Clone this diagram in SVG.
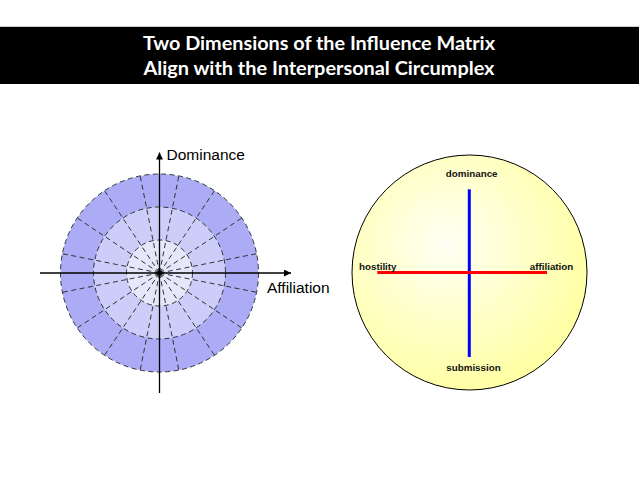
<svg xmlns="http://www.w3.org/2000/svg" width="639" height="479" viewBox="0 0 639 479">
<defs>
<style>
.title{font-family:Lato,"Open Sans","Liberation Sans",sans-serif;font-weight:bold;font-size:19px;fill:#fff;text-anchor:middle}
.lbl{font-family:"Liberation Sans",Arial,sans-serif;font-size:15.5px;fill:#000}
.small{font-family:"Liberation Sans",Arial,sans-serif;font-weight:bold;font-size:9.8px;fill:#111}
.dash{fill:none;stroke:#333;stroke-width:1;stroke-dasharray:5 3.5}
.axis{stroke:#000;stroke-width:1.3;fill:none}
</style>
<marker id="arr" viewBox="0 0 10 10" refX="10" refY="5" markerWidth="9" markerHeight="7" markerUnits="userSpaceOnUse" orient="auto">
<path d="M0,0 L10,5 L0,10 z" fill="#000"/>
</marker>
<radialGradient id="yel" cx="0.4" cy="0.38" r="0.62">
<stop offset="0" stop-color="#FFFFF4"/>
<stop offset="1" stop-color="#FFFFA6"/>
</radialGradient>
</defs>
<rect x="0" y="0" width="639" height="479" fill="#fff"/>
<g id="title">
<rect x="0" y="26" width="639" height="1" fill="#ccc"/>
<rect x="0" y="27" width="639" height="57" fill="#000"/>
<text class="title" x="319" y="50" textLength="352" lengthAdjust="spacingAndGlyphs">Two Dimensions of the Influence Matrix</text>
<text class="title" x="319" y="75" textLength="351" lengthAdjust="spacingAndGlyphs">Align with the Interpersonal Circumplex</text>
</g>
<g id="matrix">
<circle cx="159.5" cy="273" r="99" fill="#ABABF6"/>
<circle cx="159.5" cy="273" r="66" fill="#CDCDFA"/>
<circle cx="159.5" cy="273" r="33" fill="#E7E7FB"/>
<g id="radials" class="dash">
<path d="M159.5,273 L178.81,175.90 M159.5,273 L214.50,190.68 M159.5,273 L241.82,218.00 M159.5,273 L256.60,253.69 M159.5,273 L256.60,292.31 M159.5,273 L241.82,328.00 M159.5,273 L214.50,355.32 M159.5,273 L178.81,370.10 M159.5,273 L140.19,370.10 M159.5,273 L104.50,355.32 M159.5,273 L77.18,328.00 M159.5,273 L62.40,292.31 M159.5,273 L62.40,253.69 M159.5,273 L77.18,218.00 M159.5,273 L104.50,190.68 M159.5,273 L140.19,175.90"/>
</g>
<circle class="dash" cx="159.5" cy="273" r="99"/>
<circle class="dash" cx="159.5" cy="273" r="66"/>
<circle class="dash" cx="159.5" cy="273" r="33"/>
<circle cx="159.5" cy="273" r="4.5" fill="#555" opacity="0.6"/>
<circle cx="159.5" cy="273" r="2.5" fill="#000"/>
</g>
<g id="connectors">
<line class="axis" x1="159.5" y1="393" x2="159.5" y2="152.5" marker-end="url(#arr)"/>
<line class="axis" x1="40" y1="273" x2="291" y2="273" marker-end="url(#arr)"/>
</g>
<g id="axis-labels">
<text class="lbl" x="166.5" y="160">Dominance</text>
<text class="lbl" x="267" y="292.5">Affiliation</text>
</g>
<g id="circumplex">
<circle cx="469.5" cy="272.5" r="117.5" fill="url(#yel)" stroke="#000" stroke-width="1"/>
<line x1="469.3" y1="189.3" x2="469.3" y2="357" stroke="#0000FF" stroke-width="3"/>
<line x1="377.3" y1="272.5" x2="547" y2="272.5" stroke="#FF0000" stroke-width="3"/>
<text class="small" x="471.7" y="177.3" text-anchor="middle">dominance</text>
<text class="small" x="473.5" y="370.7" text-anchor="middle">submission</text>
<text class="small" x="359" y="270">hostility</text>
<text class="small" x="573.3" y="270" text-anchor="end">affiliation</text>
</g>
</svg>
